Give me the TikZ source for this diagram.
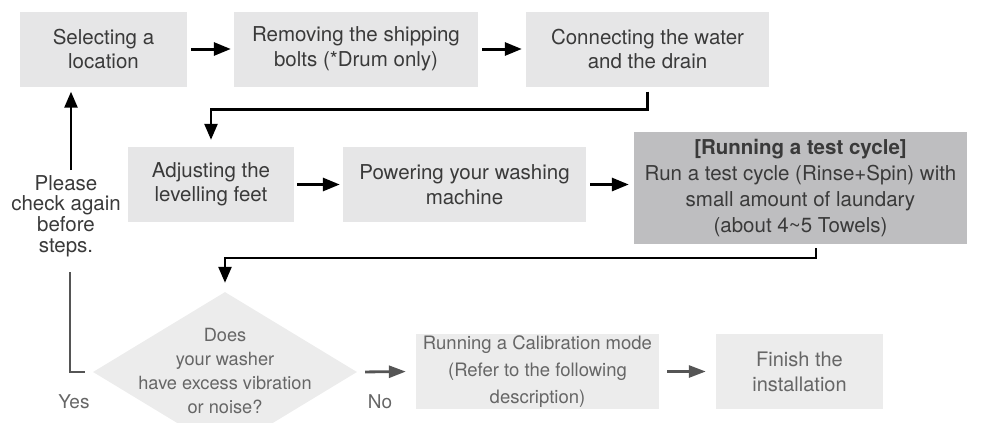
\documentclass[tikz,border=0pt]{standalone}
\usepackage{fontspec}
\setmainfont{TeX Gyre Heros}
\usetikzlibrary{arrows.meta,shapes.geometric}
\definecolor{boxfill}{HTML}{E6E6E7}
\definecolor{darkfill}{HTML}{BEBEC0}
\definecolor{lowfill}{HTML}{ECECEC}
\definecolor{txt}{HTML}{3A3A3A}
\definecolor{lowtxt}{HTML}{666666}
\definecolor{lowline}{HTML}{555555}
\begin{document}
\begin{tikzpicture}[x=1pt,y=-1pt,
  stepbox/.style={fill=boxfill, text=txt, align=center, inner sep=0pt,
    minimum height=75pt, font=\fontsize{20.5}{24.5}\selectfont},
  darkbox/.style={fill=darkfill, text=txt, align=center, inner sep=0pt,
    minimum height=112pt, minimum width=333pt, font=\fontsize{20.5}{26}\selectfont},
  lowbox/.style={fill=lowfill, text=lowtxt, align=center, inner sep=0pt,
    minimum height=75pt},
  flow/.style={-{Triangle[length=17pt,width=13pt]}, line width=3pt, black},
  conn/.style={-{Triangle[length=16pt,width=13pt]}, line width=2.5pt, black, line join=miter},
  lowflow/.style={-{Triangle[length=17pt,width=12pt]}, line width=2.8pt, lowline},
  plain/.style={text=txt, align=center, inner sep=0pt},
]
\useasboundingbox (0,0) rectangle (986,423);
\clip (0,0) rectangle (986,423);

% row 1
\node[stepbox, minimum width=167pt] (b1) at (103.5,49) {Selecting a\\location};
\node[stepbox, minimum width=244pt] (b2) at (356,49) {Removing the shipping\\bolts (*Drum only)};
\node[stepbox, minimum width=243pt] (b3) at (647.5,49) {Connecting the water\\and the drain};

% row 2
\node[stepbox, minimum width=166pt] (b4) at (211,184.5) {Adjusting the\\levelling feet};
\node[stepbox, minimum width=243pt] (b5) at (464.5,184.5) {Powering your washing\\machine};
\node[darkbox] (b6) at (800.5,188) {\textbf{[Running a test cycle]}\\Run a test cycle (Rinse+Spin) with\\small amount of laundary\\(about 4\textasciitilde 5 Towels)};

% row 3
\node[diamond, fill=lowfill, inner sep=0pt, minimum width=264pt, minimum height=160pt] (d) at (225,372) {};
\node[text=lowtxt, align=center, inner sep=0pt, font=\fontsize{18.2}{24}\selectfont] (dt) at (225,371) {Does\\your washer\\have excess vibration\\or noise?};
\node[lowbox, minimum width=243pt, font=\fontsize{18.5}{27}\selectfont] (b7) at (537.5,371.5) {Running a Calibration mode\\(Refer to the following\\description)};
\node[lowbox, minimum width=167pt, font=\fontsize{20}{25}\selectfont] (b8) at (799.5,371.5) {Finish the\\installation};

% side texts
\node[plain, font=\fontsize{20.5}{20.7}\selectfont] (please) at (66,216) {Please\\check again\\before\\steps.};
\node[text=lowtxt, inner sep=0pt, font=\fontsize{19}{22}\selectfont] (yes) at (74,402) {Yes};
\node[text=lowtxt, inner sep=0pt, font=\fontsize{19}{22}\selectfont] (no) at (380,402) {No};

% arrows
\draw[flow, shorten <=4pt, shorten >=3pt] (b1) -- (b2);
\draw[flow, shorten <=4pt, shorten >=4pt] (b2) -- (b3);
\draw[flow, shorten <=3pt, shorten >=3pt] (b4) -- (b5);
\draw[flow, shorten <=4pt, shorten >=5pt] (b5.east) -- (b5.east -| b6.west);

\draw[conn, shorten <=5pt, shorten >=7pt] (b3.south) -- ++(0,23) -| (b4.north);
\draw[conn, shorten <=4pt, shorten >=9pt] ([xshift=15.5pt]b6.south) -- ++(0,14) -| (d.north);

\draw[lowflow, shorten <=8pt, shorten >=10pt] (d.east) -- (b7.west);
\draw[lowflow, shorten <=8pt, shorten >=10pt] (b7) -- (b8);

% feedback loop
\coordinate (ub) at (71,170);
\draw[conn, shorten >=5pt] (ub) -- (ub |- b1.south);
\coordinate (ya) at (70,272);
\draw[line width=2.5pt, lowline, line join=miter] (ya) |- ([xshift=-8pt]d.west);
\end{tikzpicture}
\end{document}
